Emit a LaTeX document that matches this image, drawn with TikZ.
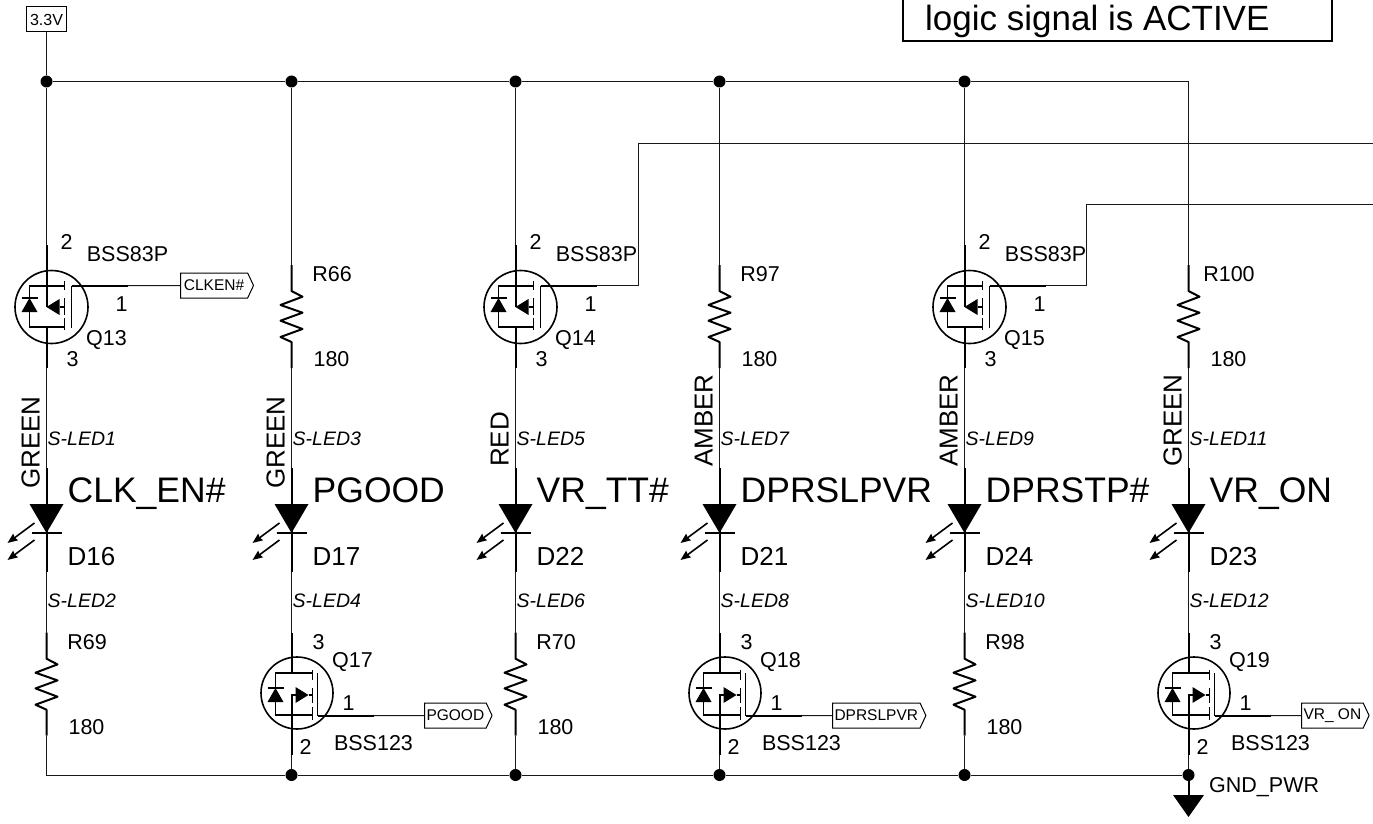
\documentclass[tikz,border=0pt]{standalone}
\usepackage{fontspec}
\setmainfont{Liberation Sans}
\usetikzlibrary{arrows.meta,shapes.symbols}
\tikzset{
	wire/.style={line width=1pt,color=black!90},
	stub/.style={line width=2pt,color=black},
	part/.style={line width=1.6pt,color=black},
	lab/.style={inner sep=0pt,font=\fontsize{21.5}{24}\selectfont},
	sled/.style={inner sep=0pt,anchor=base west,font=\fontsize{19.5}{22}\selectfont\itshape},
	big/.style={inner sep=0pt,anchor=base west,font=\fontsize{35.5}{38}\selectfont},
	ref/.style={inner sep=0pt,anchor=base west,font=\fontsize{26}{28}\selectfont},
	hue/.style={inner sep=0pt,anchor=base west,rotate=90,font=\fontsize{26}{28}\selectfont},
	junct/.style={circle,fill=black,inner sep=0pt,minimum size=12pt},
	sigtag/.style={draw,line width=1pt,signal,signal to=east,signal pointer angle=130,anchor=west,inner ysep=0pt,inner xsep=2pt,minimum height=25pt,font=\fontsize{15.5}{17}\selectfont}
}
\def\pfet(#1:#2)(#3){
	\begin{scope}[shift={(#2,307)}]
		\coordinate (#1-t) at (0,-62);
		\coordinate (#1-b) at (0,61);
		\coordinate (#1-g) at (81,-21.5);
		\draw[part] (5,0) circle (36.5);
		\draw[stub] (#1-t) -- (0,0);
		\draw[stub] (0,20) -- (#1-b);
		\draw[part] (18,-21) -- (-17,-21) -- (-17,20) -- (18,20);
		\draw[part] (18,-26) -- (18,-17);
		\draw[part] (18,-9) -- (18,8);
		\draw[part] (18,11) -- (18,23);
		\draw[part] (25,-21.5) -- (25,21);
		\draw[stub] (25,-21.5) -- (#1-g);
		\fill (-25,5) -- (-9,5) -- (-17,-9) -- cycle;
		\draw[part] (-25,-9) -- (-9,-9);
		\fill (0,0) -- (13,-8) -- (13,8) -- cycle;
		\draw[part] (13,0) -- (18,0);
		\node[lab] (#1-p2) at (20,-65) {2};
		\node[lab] (#1-p3) at (26,52) {3};
		\node[lab] (#1-p1) at (75,-3) {1};
		\node[lab] (#1-type) at (81,-53) {BSS83P};
		\node[lab] (#1-ref) at (60,33) {#3};
	\end{scope}
}
\def\nfet(#1:#2)(#3){
	\begin{scope}[shift={(#2,693)}]
		\coordinate (#1-t) at (0,-60);
		\coordinate (#1-b) at (0,62);
		\coordinate (#1-g) at (82,22.5);
		\draw[part] (5.5,0) circle (36);
		\draw[stub] (#1-t) -- (0,-20);
		\draw[stub] (4,2) -- (0,2) -- (#1-b);
		\draw[part] (21,-20) -- (-16,-20) -- (-16,22) -- (21,22);
		\draw[part] (21,-23) -- (21,-13);
		\draw[part] (21,-5) -- (21,10);
		\draw[part] (21,14) -- (21,27);
		\draw[part] (26,-20) -- (26,22.5);
		\draw[stub] (26,22.5) -- (#1-g);
		\fill (-24,9) -- (-8,9) -- (-16,-5) -- cycle;
		\draw[part] (-24,-5) -- (-8,-5);
		\fill (17,2) -- (4,-6) -- (4,10) -- cycle;
		\draw[part] (17,2) -- (21,2);
		\node[lab] (#1-p3) at (27,-51) {3};
		\node[lab] (#1-p2) at (14,54) {2};
		\node[lab] (#1-p1) at (57,10) {1};
		\node[lab] (#1-type) at (82,50) {BSS123};
		\node[lab] (#1-ref) at (61,-31) {#3};
	\end{scope}
}
\def\resup(#1:#2:#3)(#4){
	\begin{scope}[shift={(#2,#3)}]
		\coordinate (#1-t) at (0,0);
		\coordinate (#1-b) at (0,103);
		\draw[stub,line join=round] (#1-t) -- (0,26) -- (11,31.7) -- (-11,40) -- (11,47.7) -- (-11,55.7) -- (11,64) -- (-11,72) -- (0,77) -- (#1-b);
		\node[lab] (#1-ref) at (40.5,9.5) {#4};
		\node[lab] (#1-val) at (40,94) {180};
	\end{scope}
}
\def\led(#1:#2)(#3:#4)(#5)(#6)(#7:#8){
	\begin{scope}[shift={(#2,0)}]
		\coordinate (#1-t) at (0,468);
		\coordinate (#1-b) at (0,572);
		\draw[stub] (#1-t) -- (#1-b);
		\fill (-17,504) -- (17,504) -- (0,533) -- cycle;
		\draw[part] (-15,533) -- (15,533);
		\draw[part,-{Stealth[length=10pt,width=8pt,inset=1pt]}] (-12,523) -- (-39,543);
		\draw[part,-{Stealth[length=10pt,width=8pt,inset=1pt]}] (-12,540) -- (-39,560);
		\node[hue] (#1-hue) at (-7,#4) {#3};
		\node[sled] (#1-top) at (1,445) {#7};
		\node[sled] (#1-bot) at (1,607) {#8};
		\node[big] (#1-sig) at (21,502) {#5};
		\node[ref] (#1-ref) at (21,565) {#6};
	\end{scope}
}

\begin{document}
\begin{tikzpicture}[x=1pt,y=-1pt]
		%%%%% START %%%%%
		\useasboundingbox (0,0) rectangle (1373,824);
		
		\draw[line width=1.5pt] (903,-2) -- (903,41) -- (1332,41) -- (1332,-2);
		\node[inner sep=0pt,anchor=base west,font=\fontsize{35}{38}\selectfont] (note) at (925,30.5) {logic signal is ACTIVE};
		
		\node[draw,line width=1pt,inner sep=0pt,minimum width=40pt,minimum height=25pt,font=\fontsize{16}{18}\selectfont] (vcc) at (46.5,19.5) {3.3V};
		
		\node[junct] (jt1) at (46.5,81.5) {};
		\node[junct] (jt2) at (291.5,81.5) {};
		\node[junct] (jt3) at (515.5,81.5) {};
		\node[junct] (jt4) at (719.5,81.5) {};
		\node[junct] (jt5) at (964.5,81.5) {};
		
		\node[junct] (jb2) at (291.5,775) {};
		\node[junct] (jb3) at (515.5,775) {};
		\node[junct] (jb4) at (719.5,775) {};
		\node[junct] (jb5) at (964.5,775) {};
		\node[junct] (jb6) at (1188.5,775) {};
		
		\pfet(Q13:46.5)(Q13);
		\pfet(Q14:515.5)(Q14);
		\pfet(Q15:964.5)(Q15);
		
		\nfet(Q17:291.5)(Q17);
		\nfet(Q18:719.5)(Q18);
		\nfet(Q19:1188.5)(Q19);
		
		\resup(R66:291.5:265)(R66);
		\resup(R97:719.5:265)(R97);
		\resup(R100:1188.5:265)(R100);
		\resup(R69:46.5:632.7)(R69);
		\resup(R70:515.5:632.7)(R70);
		\resup(R98:964.5:632.7)(R98);
		
		\led(D16:46.5)(GREEN:489)(CLK\_EN\#)(D16)(S-LED1:S-LED2);
		\led(D17:291.5)(GREEN:489)(PGOOD)(D17)(S-LED3:S-LED4);
		\led(D22:515.5)(RED:467)(VR\_TT\#)(D22)(S-LED5:S-LED6);
		\led(D21:719.5)(AMBER:467)(DPRSLPVR)(D21)(S-LED7:S-LED8);
		\led(D24:964.5)(AMBER:467)(DPRSTP\#)(D24)(S-LED9:S-LED10);
		\led(D23:1188.5)(GREEN:467)(VR\_ON)(D23)(S-LED11:S-LED12);
		
		\draw[wire] (vcc) -- (jt1);
		\draw[wire] (jt1) -- (jt2);
		\draw[wire] (jt2) -- (jt3);
		\draw[wire] (jt3) -- (jt4);
		\draw[wire] (jt4) -- (jt5);
		\draw[wire] (jt5) -| (R100-t);
		
		\draw[wire] (jt1) -- (Q13-t);
		\draw[wire] (jt2) -- (R66-t);
		\draw[wire] (jt3) -- (Q14-t);
		\draw[wire] (jt4) -- (R97-t);
		\draw[wire] (jt5) -- (Q15-t);
		
		\draw[wire] (Q13-b) -- (D16-t);
		\draw[wire] (R66-b) -- (D17-t);
		\draw[wire] (Q14-b) -- (D22-t);
		\draw[wire] (R97-b) -- (D21-t);
		\draw[wire] (Q15-b) -- (D24-t);
		\draw[wire] (R100-b) -- (D23-t);
		
		\draw[wire] (D16-b) -- (R69-t);
		\draw[wire] (D17-b) -- (Q17-t);
		\draw[wire] (D22-b) -- (R70-t);
		\draw[wire] (D21-b) -- (Q18-t);
		\draw[wire] (D24-b) -- (R98-t);
		\draw[wire] (D23-b) -- (Q19-t);
		
		\draw[wire] (R69-b) |- (jb2);
		\draw[wire] (Q17-b) -- (jb2);
		\draw[wire] (R70-b) -- (jb3);
		\draw[wire] (Q18-b) -- (jb4);
		\draw[wire] (R98-b) -- (jb5);
		\draw[wire] (Q19-b) -- (jb6);
		\draw[wire] (jb2) -- (jb3);
		\draw[wire] (jb3) -- (jb4);
		\draw[wire] (jb4) -- (jb5);
		\draw[wire] (jb5) -- (jb6);
		
		\node[sigtag,minimum width=73pt] (tag13) at (180,285.5) {CLKEN\#};
		\node[sigtag] (tag17) at (424,715.5) {PGOOD};
		\node[sigtag] (tag18) at (832,715.5) {DPRSLPVR};
		\node[sigtag] (tag19) at (1301,715.5) {VR\_ ON};
		
		\draw[wire] (Q13-g) -- (tag13);
		\draw[wire] (Q17-g) -- (tag17);
		\draw[wire] (Q18-g) -- (tag18);
		\draw[wire] (Q19-g) -- (tag19);
		
		\coordinate (bend1) at (638,143.5);
		\coordinate (bend2) at (1086,204.5);
		\coordinate (bus1) at (1373,143.5);
		\coordinate (bus2) at (1373,204.5);
		\draw[wire] (Q14-g) -| (bend1) -- (bus1);
		\draw[wire] (Q15-g) -| (bend2) -- (bus2);
		
		\coordinate (gnd) at (1188.5,795);
		\draw[stub] (jb6) -- (gnd);
		\fill (1173,795) -- (1204,795) -- (1188.5,817) -- cycle;
		\node[inner sep=0pt,anchor=base west,font=\fontsize{21.5}{24}\selectfont] (gndlab) at (1209,792.5) {GND\_PWR};
		
		%%%%% END %%%%%
	\end{tikzpicture}
\end{document}
